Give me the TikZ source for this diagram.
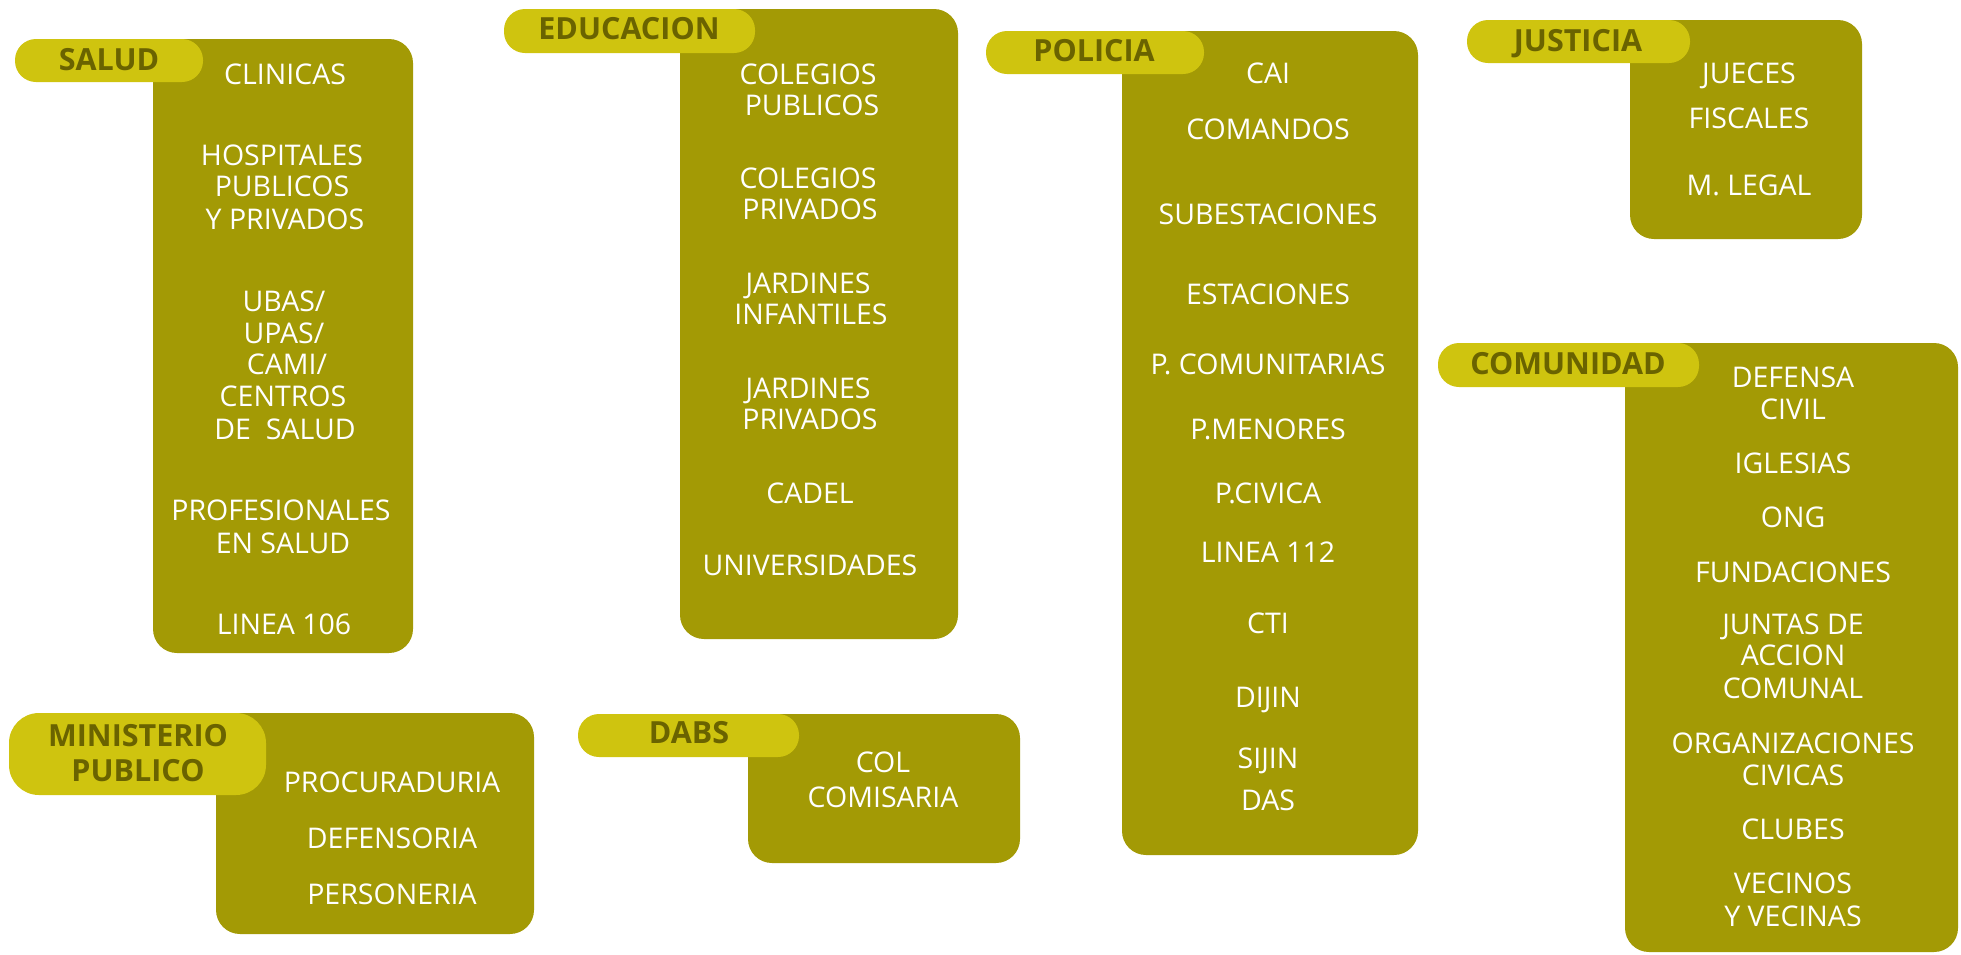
\documentclass[tikz,border=0pt]{standalone}
\usepackage{fontspec}
\setmainfont{Open Sans}
\definecolor{boxc}{RGB}{163,154,5}
\definecolor{tabc}{RGB}{207,196,15}
\definecolor{tabtxt}{RGB}{106,99,0}
\tikzset{
  panel/.style={fill=boxc, rounded corners=24pt, inner sep=0pt, outer sep=0pt, anchor=north west},
  tabbox/.style={fill=tabc, rounded corners=21pt, inner sep=0pt, outer sep=0pt, anchor=north west},
  item/.style={text=white, inner sep=0pt, anchor=base, font=\fontsize{28.5}{32}\selectfont},
  tabtext/.style={text=tabtxt, inner sep=0pt, anchor=base, font=\bfseries\fontsize{30.5}{34}\selectfont}
}
\newcommand\pnl[6]{\node[#1, minimum width={(#5-#3)*1pt}, minimum height={(#6-#4)*1pt}] (#2) at (#3,#4) {};}
\newcommand\li[4]{\node[item] (#1) at (#2,#3+10.2) {#4};}
\newcommand\tl[4]{\node[tabtext] (#1) at (#2,#3+10.9) {#4};}
\begin{document}
\begin{tikzpicture}[x=1pt,y=-1pt]
\useasboundingbox (0,0) rectangle (1961,954);
% SALUD
\pnl{panel}{bSalud}{153}{39}{413}{653}
\pnl{tabbox}{tSalud}{15}{39}{203}{82}
\tl{hSalud}{109}{60}{SALUD}
\li{s1}{285}{74}{CLINICAS}
\li{s2}{282}{155}{HOSPITALES}
\li{s3}{282}{186}{PUBLICOS}
\li{s4}{285}{219}{Y PRIVADOS}
\li{s5}{284}{301}{UBAS/}
\li{s6}{284}{333}{UPAS/}
\li{s7}{287}{364}{CAMI/}
\li{s8}{283}{396}{CENTROS}
\li{s9}{285}{429}{DE\ \ SALUD}
\li{s10}{281}{510}{PROFESIONALES}
\li{s11}{283}{543}{EN SALUD}
\li{s12}{284}{624}{LINEA 106}
% EDUCACION
\pnl{panel}{bEdu}{680}{9}{958}{639}
\pnl{tabbox}{tEdu}{504}{9}{755}{53}
\tl{hEdu}{629}{29}{EDUCACION}
\li{e1}{808}{74}{COLEGIOS}
\li{e2}{812}{105}{PUBLICOS}
\li{e3}{808}{178}{COLEGIOS}
\li{e4}{810}{209}{PRIVADOS}
\li{e5}{808}{283}{JARDINES}
\li{e6}{811}{314}{INFANTILES}
\li{e7}{808}{388}{JARDINES}
\li{e8}{810}{419}{PRIVADOS}
\li{e9}{810}{493}{CADEL}
\li{e10}{810}{565}{UNIVERSIDADES}
% POLICIA
\pnl{panel}{bPol}{1122}{31}{1418}{855}
\pnl{tabbox}{tPol}{986}{31}{1204}{74}
\tl{hPol}{1094}{51}{POLICIA}
\li{p1}{1268}{73}{CAI}
\li{p2}{1268}{129}{COMANDOS}
\li{p3}{1268}{214}{SUBESTACIONES}
\li{p4}{1268}{294}{ESTACIONES}
\li{p5}{1268}{364}{P. COMUNITARIAS}
\li{p6}{1268}{429}{P.MENORES}
\li{p7}{1268}{493}{P.CIVICA}
\li{p8}{1268}{552}{LINEA 112}
\li{p9}{1268}{623}{CTI}
\li{p10}{1268}{697}{DIJIN}
\li{p11}{1268}{758}{SIJIN}
\li{p12}{1268}{800}{DAS}
% JUSTICIA
\pnl{panel}{bJus}{1630}{20}{1862}{239}
\pnl{tabbox}{tJus}{1467}{20}{1690}{63}
\tl{hJus}{1578}{41}{JUSTICIA}
\li{j1}{1749}{73}{JUECES}
\li{j2}{1749}{118}{FISCALES}
\li{j3}{1749}{185}{M. LEGAL}
% COMUNIDAD
\pnl{panel}{bCom}{1625}{343}{1958}{952}
\pnl{tabbox}{tCom}{1438}{343}{1699}{387}
\tl{hCom}{1568}{364}{COMUNIDAD}
\li{c1}{1793}{377}{DEFENSA}
\li{c2}{1793}{409}{CIVIL}
\li{c3}{1793}{463}{IGLESIAS}
\li{c4}{1793}{517}{ONG}
\li{c5}{1793}{572}{FUNDACIONES}
\li{c6}{1793}{624}{JUNTAS DE}
\li{c7}{1793}{655}{ACCION}
\li{c8}{1793}{688}{COMUNAL}
\li{c9}{1793}{743}{ORGANIZACIONES}
\li{c10}{1793}{775}{CIVICAS}
\li{c11}{1793}{829}{CLUBES}
\li{c12}{1793}{883}{VECINOS}
\li{c13}{1793}{916}{Y VECINAS}
% MINISTERIO PUBLICO
\pnl{panel}{bMin}{216}{713}{534}{934}
\node[tabbox, rounded corners=30pt, minimum width=257pt, minimum height=82pt] (tMin) at (9,713) {};
\tl{hMin1}{138}{736}{MINISTERIO}
\tl{hMin2}{138}{771}{PUBLICO}
\li{m1}{392}{782}{PROCURADURIA}
\li{m2}{392}{838}{DEFENSORIA}
\li{m3}{392}{894}{PERSONERIA}
% DABS
\pnl{panel}{bDabs}{748}{714}{1020}{863}
\pnl{tabbox}{tDabs}{578}{714}{799}{757}
\tl{hDabs}{689}{733}{DABS}
\li{d1}{883}{762}{COL}
\li{d2}{883}{797}{COMISARIA}
\end{tikzpicture}
\end{document}
